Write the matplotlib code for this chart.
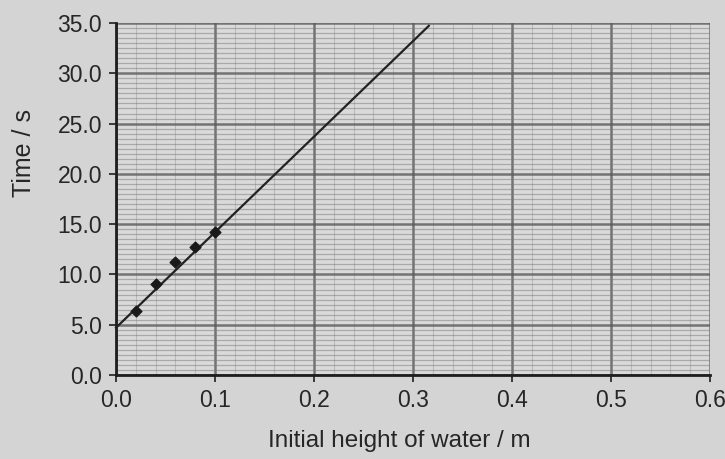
import numpy as np
import matplotlib.pyplot as plt
from matplotlib.ticker import MultipleLocator, FormatStrFormatter

plt.rcParams['font.family'] = ['Liberation Sans', 'DejaVu Sans']

# Measured points
height = [0.02, 0.04, 0.06, 0.08, 0.10]
time_s = [6.4, 9.0, 11.2, 12.7, 14.2]

# Hand-drawn best-fit line: intercept, gradient, and where it stops
fit_intercept = 4.7
fit_gradient = 95.0
fit_x_end = 0.316

x_ticks = [0.0, 0.1, 0.2, 0.3, 0.4, 0.5, 0.6]
y_ticks = [0.0, 5.0, 10.0, 15.0, 20.0, 25.0, 30.0, 35.0]

paper = '#d4d4d4'
ink = '#262626'

fig = plt.figure(figsize=(7.25, 4.59), dpi=100, facecolor=paper)
ax = fig.add_axes([116 / 725, 1 - 375 / 459, (710 - 116) / 725, (375 - 23) / 459])
ax.set_facecolor('#dadada')

ax.set_xlim(0, 0.6)
ax.set_ylim(0, 35)
ax.set_xticks(x_ticks)
ax.set_yticks(y_ticks)
ax.xaxis.set_major_formatter(FormatStrFormatter('%.1f'))
ax.yaxis.set_major_formatter(FormatStrFormatter('%.1f'))
ax.xaxis.set_minor_locator(MultipleLocator(0.02))
ax.yaxis.set_minor_locator(MultipleLocator(0.5))

ax.grid(which='major', color='#5a5a5a', linewidth=1.8, alpha=0.8)
ax.xaxis.grid(which='minor', color='#8a8a8a', linewidth=0.8, alpha=0.4)
ax.yaxis.grid(which='minor', color='#7a7a7a', linewidth=0.9, alpha=0.5)
ax.set_axisbelow(True)

for side in ['top', 'right']:
    ax.spines[side].set_visible(False)
for side in ['left', 'bottom']:
    ax.spines[side].set_color('#1e1e1e')
    ax.spines[side].set_linewidth(2.0)

ax.tick_params(axis='both', which='major', direction='out', length=5, width=1.2,
               color='#1e1e1e', labelsize=16.5, labelcolor=ink)
ax.tick_params(axis='y', which='major', pad=5)
ax.tick_params(axis='x', which='major', pad=5)
ax.tick_params(axis='both', which='minor', length=0)

xs = np.array([0.0, fit_x_end])
ax.plot(xs, fit_intercept + fit_gradient * xs, color='#222222', linewidth=1.6,
        clip_on=False, zorder=3)
ax.scatter(height, time_s, marker='D', s=30, color='#1a1a1a', zorder=4)

fig.text(24 / 725, 1 - 153 / 459, 'Time / s', rotation=90, ha='center', va='center',
         fontsize=18, color=ink)
fig.text(399 / 725, 1 - 441 / 459, 'Initial height of water / m', ha='center',
         va='center', fontsize=17.5, color=ink)

fig.savefig('out.png', dpi=100, facecolor=paper)
